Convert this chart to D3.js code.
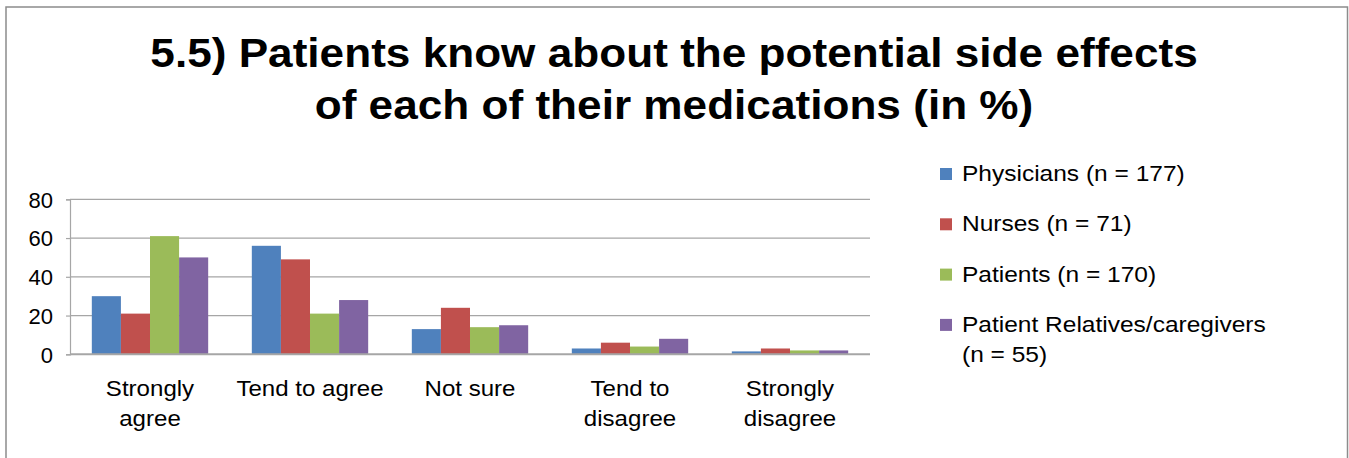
<!DOCTYPE html>
<html>
<head>
<meta charset="utf-8">
<script src="https://cdn.jsdelivr.net/npm/d3@7"></script>
<style>
  html, body { margin: 0; padding: 0; background: #ffffff; }
  svg { display: block; font-family: "Liberation Sans", Arial, sans-serif; }
</style>
</head>
<body>
<svg id="chart" width="1349" height="458"></svg>
<script>
// Survey question 5.5 – share of respondents per answer (in %)
const categories = [["Strongly", "agree"], ["Tend to agree"], ["Not sure"], ["Tend to", "disagree"], ["Strongly", "disagree"]];
const seriesNames = [["Physicians (n = 177)"], ["Nurses (n = 71)"], ["Patients (n = 170)"], ["Patient Relatives/caregivers", "(n = 55)"]];
const physicians = [30, 56, 13, 3, 1.5];
const nurses = [21, 49, 24, 6, 3];
const patients = [61, 21, 14, 4, 2];
const relatives = [50, 28, 15, 8, 2];
const yTicks = [0, 20, 40, 60, 80];
const titleLines = ["5.5) Patients know about the potential side effects", "of each of their medications (in %)"];

const colors = ["#4F81BD", "#C0504D", "#9BBB59", "#8064A2"];
const seriesValues = [physicians, nurses, patients, relatives];

const svg = d3.select("#chart");
const stretch = 1.12;

// outer frame
svg.append("rect")
  .attr("x", 6).attr("y", 7).attr("width", 1341.5).attr("height", 470)
  .attr("fill", "#ffffff").attr("stroke", "#8c8c8c").attr("stroke-width", 1.5);

// title
titleLines.forEach((t, i) => {
  svg.append("text")
    .attr("transform", `translate(674,${67 + i * 52}) scale(1.09,1)`)
    .attr("text-anchor", "middle")
    .attr("font-weight", "bold")
    .attr("font-size", 40.5)
    .attr("fill", "#000")
    .text(t);
});

const plot = { left: 70, right: 870, top: 199.3, bottom: 354.3 };

const x0 = d3.scaleBand()
  .domain(d3.range(categories.length))
  .range([plot.left, plot.right])
  .paddingInner(1.5 / 5.5)
  .paddingOuter(0.75 / 5.5);

const x1 = d3.scaleBand()
  .domain(d3.range(seriesValues.length))
  .range([0, x0.bandwidth()]);

const y = d3.scaleLinear().domain([0, 80]).range([plot.bottom, plot.top]);

// gridlines
svg.append("g")
  .selectAll("line")
  .data(yTicks.filter(d => d > 0))
  .join("line")
  .attr("x1", plot.left).attr("x2", plot.right)
  .attr("y1", d => y(d)).attr("y2", d => y(d))
  .attr("stroke", "#a6a6a6").attr("stroke-width", 1.2);

// y axis
const yAxis = d3.axisLeft(y).tickValues(yTicks).tickSize(4).tickPadding(13);
const gy = svg.append("g").attr("transform", `translate(${plot.left},0)`).call(yAxis);
gy.select(".domain").attr("stroke", "#a6a6a6").attr("stroke-width", 1.2);
gy.selectAll(".tick line").attr("stroke", "#a6a6a6").attr("stroke-width", 1.2);
gy.selectAll(".tick text")
  .attr("font-family", "Liberation Sans, Arial, sans-serif")
  .attr("font-size", 22)
  .attr("fill", "#000")
  .attr("dy", "0.36em");

// bars
const groups = svg.append("g")
  .selectAll("g")
  .data(categories.map((c, i) => i))
  .join("g")
  .attr("transform", i => `translate(${x0(i)},0)`);

groups.selectAll("rect")
  .data(i => seriesValues.map((vals, s) => ({ s, v: vals[i] })))
  .join("rect")
  .attr("x", d => x1(d.s))
  .attr("width", x1.bandwidth())
  .attr("y", d => y(d.v))
  .attr("height", d => y(0) - y(d.v))
  .attr("fill", d => colors[d.s]);

// category axis line
svg.append("line")
  .attr("x1", plot.left).attr("x2", plot.right)
  .attr("y1", y(0)).attr("y2", y(0))
  .attr("stroke", "#a6a6a6").attr("stroke-width", 2);

// category labels
categories.forEach((lines, i) => {
  const cx = x0(i) + x0.bandwidth() / 2;
  lines.forEach((t, j) => {
    svg.append("text")
      .attr("transform", `translate(${cx},${396 + j * 30}) scale(${stretch},1)`)
      .attr("text-anchor", "middle")
      .attr("font-size", 21.5)
      .attr("fill", "#000")
      .text(t);
  });
});

// legend
const legend = svg.append("g");
seriesNames.forEach((lines, s) => {
  const baseY = 181 + s * 50.3;
  legend.append("rect")
    .attr("x", 940).attr("y", baseY - 13)
    .attr("width", 12).attr("height", 12)
    .attr("fill", colors[s]);
  lines.forEach((t, j) => {
    legend.append("text")
      .attr("transform", `translate(962,${baseY + j * 30}) scale(1.14,1)`)
      .attr("font-size", 21.5)
      .attr("fill", "#000")
      .text(t);
  });
});
</script>
</body>
</html>
